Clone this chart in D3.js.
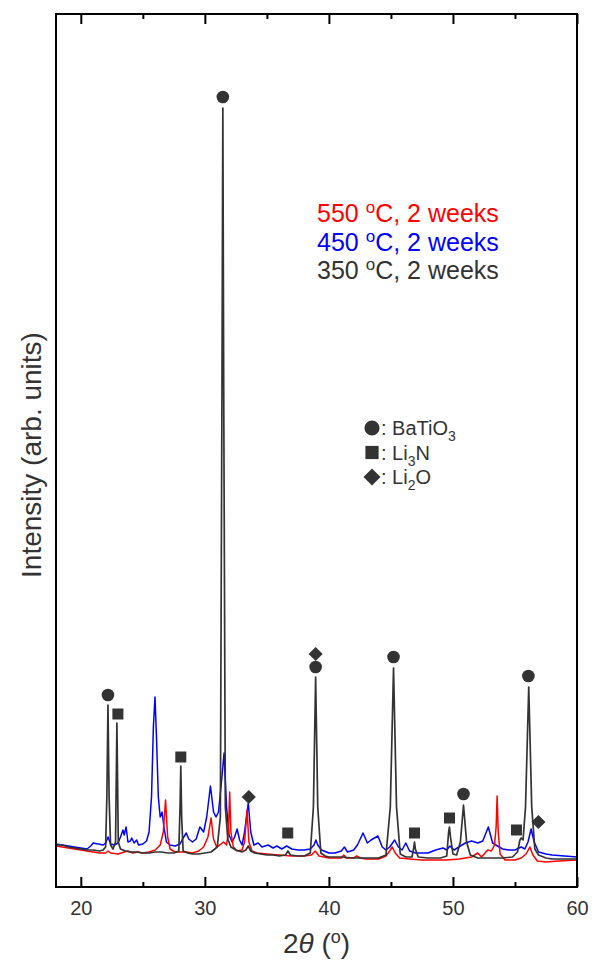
<!DOCTYPE html>
<html>
<head>
<meta charset="utf-8">
<script src="https://cdn.jsdelivr.net/npm/d3@7"></script>
<style>
    body { margin: 0; background: #fff; }
    text { font-family: "Liberation Sans", Arial, sans-serif; }
</style>
</head>
<body>
<svg id="chart" width="592" height="963"></svg>
<script>
// x: 2theta (deg), y: intensity (arb. units)
var xTicks = [20, 30, 40, 50, 60];
var xMinorTicks = [25, 35, 45, 55];

var pattern450 = [
    [18.0, 43], [18.5, 42], [19.0, 41], [19.5, 40], [20.0, 39], [20.5, 38], [20.8, 41], [21.0, 44],
    [21.4, 43], [21.8, 42], [22.0, 44], [22.2, 50], [22.4, 43], [22.7, 42], [23.0, 44], [23.2, 50],
    [23.4, 57], [23.5, 52], [23.65, 60], [23.8, 45], [24.0, 46], [24.1, 49], [24.3, 44], [24.5, 47],
    [24.65, 42], [25.0, 43], [25.3, 46], [25.5, 55], [25.7, 90], [25.85, 160], [25.98, 190], [26.1, 150],
    [26.25, 90], [26.4, 70], [26.55, 75], [26.7, 60], [26.9, 45], [27.2, 42], [27.6, 41], [28.0, 43],
    [28.2, 48], [28.5, 54], [28.7, 48], [29.0, 45], [29.3, 48], [29.6, 60], [29.9, 55], [30.15, 70],
    [30.45, 101], [30.7, 75], [30.9, 70], [31.1, 75], [31.3, 100], [31.55, 134], [31.75, 80], [31.95, 52],
    [32.2, 45], [32.4, 50], [32.6, 58], [32.8, 47], [33.0, 42], [33.2, 55], [33.5, 84], [33.7, 55],
    [33.95, 42], [34.3, 44], [34.6, 40], [35.1, 42], [35.5, 39], [35.8, 41], [36.2, 38], [36.6, 41],
    [37.0, 38], [37.5, 37], [38.0, 37], [38.5, 38], [38.8, 42], [38.95, 47], [39.1, 42], [39.4, 37],
    [40.0, 34], [40.5, 34], [41.0, 36], [41.25, 40], [41.5, 35], [42.0, 37], [42.3, 42], [42.75, 54],
    [43.1, 44], [43.4, 47], [43.95, 51], [44.3, 40], [44.6, 37], [44.9, 40], [45.3, 47], [45.6, 40],
    [45.9, 37], [46.2, 44], [46.5, 36], [47.0, 34], [48.0, 34], [48.6, 37], [49.2, 39], [49.5, 37],
    [49.75, 41], [50.1, 37], [50.6, 41], [51.0, 44], [51.5, 46], [52.0, 44], [52.4, 46], [52.85, 60],
    [53.2, 44], [53.6, 41], [54.0, 38], [54.5, 37], [55.0, 37], [55.5, 40], [55.8, 38], [56.05, 45],
    [56.3, 58], [56.55, 45], [56.9, 35], [57.5, 33], [58.0, 32], [59.0, 31], [60.0, 30]
];

var pattern550 = [
    [18.0, 41], [18.5, 40], [19.0, 39], [19.5, 38], [20.0, 37], [20.5, 36], [21.0, 35], [21.5, 34],
    [22.0, 34], [22.2, 36], [22.4, 34], [23.0, 33], [23.5, 35], [23.8, 36], [24.2, 34], [24.6, 35],
    [25.0, 34], [25.5, 35], [26.0, 37], [26.4, 42], [26.65, 55], [26.83, 87], [27.0, 50], [27.2, 38],
    [27.6, 35], [28.0, 35], [28.5, 35], [29.0, 34], [29.5, 36], [29.9, 40], [30.25, 50], [30.5, 69],
    [30.7, 48], [30.95, 40], [31.2, 42], [31.5, 45], [31.75, 42], [31.9, 55], [32.0, 95], [32.1, 55],
    [32.3, 40], [32.6, 36], [33.0, 37], [33.2, 45], [33.4, 77], [33.55, 45], [33.8, 36], [34.2, 34],
    [35.0, 33], [36.0, 32], [37.0, 31], [38.0, 31], [38.6, 32], [38.9, 36], [39.2, 31], [40.0, 29],
    [41.0, 29], [41.2, 32], [41.4, 29], [42.0, 29], [42.25, 31], [42.5, 29], [43.0, 28], [44.0, 28],
    [44.6, 31], [44.9, 36], [45.1, 40], [45.35, 34], [45.7, 29], [46.5, 28], [47.5, 27], [48.5, 27],
    [49.5, 27], [50.5, 28], [51.5, 30], [52.0, 34], [52.3, 30], [52.8, 37], [53.1, 36], [53.35, 42],
    [53.48, 60], [53.56, 91], [53.65, 55], [53.8, 33], [54.2, 27], [55.0, 27], [55.5, 29], [55.9, 33],
    [56.2, 40], [56.45, 32], [56.8, 26], [57.5, 25], [58.5, 26], [60.0, 27]
];

var pattern350 = [
    [18.0, 42], [18.5, 42], [19.0, 40], [19.5, 39], [20.0, 38], [20.5, 37], [21.0, 37], [21.5, 36],
    [21.8, 37], [22.0, 40], [22.1, 90], [22.19, 182], [22.28, 90], [22.4, 42], [22.6, 38], [22.8, 45],
    [22.91, 164], [23.02, 45], [23.2, 38], [23.6, 36], [24.0, 35], [24.5, 35], [25.0, 34], [25.5, 34],
    [26.0, 35], [26.5, 35], [27.0, 34], [27.5, 34], [27.9, 36], [28.0, 80], [28.06, 121], [28.13, 70],
    [28.25, 36], [28.6, 34], [29.0, 33], [29.5, 33], [30.0, 34], [30.5, 35], [31.0, 40], [31.25, 70],
    [31.38, 500], [31.45, 779], [31.52, 500], [31.65, 80], [31.85, 48], [32.1, 40], [32.5, 37], [33.0, 35],
    [33.3, 37], [33.5, 41], [33.7, 36], [34.0, 34], [34.5, 33], [35.0, 32], [35.5, 32], [36.0, 31],
    [36.5, 32], [36.7, 36], [36.9, 32], [37.5, 31], [38.0, 31], [38.5, 34], [38.75, 80], [38.93, 210],
    [39.1, 80], [39.35, 34], [39.7, 31], [40.0, 30], [41.0, 30], [42.0, 29], [43.0, 29], [44.0, 29],
    [44.6, 32], [44.95, 80], [45.21, 219], [45.45, 80], [45.75, 33], [46.2, 30], [46.7, 30], [46.85, 40],
    [46.9, 45], [46.97, 38], [47.2, 30], [48.0, 29], [49.0, 29], [49.5, 31], [49.65, 55], [49.72, 60],
    [49.8, 50], [50.0, 33], [50.3, 32], [50.6, 45], [50.85, 82], [51.1, 45], [51.4, 32], [52.0, 29],
    [53.0, 29], [54.0, 29], [54.8, 30], [55.2, 35], [55.4, 47], [55.5, 49], [55.65, 47], [55.85, 80],
    [56.11, 200], [56.35, 80], [56.6, 38], [56.9, 32], [57.5, 29], [58.0, 28], [59.0, 28], [60.0, 28]
];

var seriesColors = ['#0000ff', '#ff0000', '#333333'];
var seriesData = [pattern450, pattern550, pattern350];

// legend, top to bottom
var legendTemps = ['550', '450', '350'];
var legendColors = ['#ff0000', '#0000ff', '#333333'];

// phase markers: [shape, 2theta, intensity]
var phaseMarkers = [
    ['circle', 22.19, 192], ['square', 22.99, 173], ['square', 28.06, 130], ['circle', 31.45, 790],
    ['diamond', 33.54, 90], ['square', 36.68, 54], ['diamond', 38.93, 233], ['circle', 38.93, 220],
    ['circle', 45.21, 230], ['square', 46.9, 54], ['square', 49.72, 69], ['circle', 50.85, 93],
    ['square', 55.12, 57], ['circle', 56.08, 211], ['diamond', 56.89, 65]
];
var phaseShapes = ['circle', 'square', 'diamond'];
var phaseLabels = [['BaTiO', '3'], ['Li', '3', 'N'], ['Li', '2', 'O']];

var margin = {top: 14, right: 15, bottom: 76, left: 56},
    width = 592 - margin.left - margin.right,
    height = 963 - margin.top - margin.bottom;

var svg = d3.select('#chart');
var g = svg.append('g')
    .attr('transform', 'translate(' + margin.left + ',' + margin.top + ')');

var x = d3.scaleLinear().domain([18, 60]).range([0, width]);
var y = d3.scaleLinear().domain([0, height]).range([height, 0]);

var line = d3.line()
    .x(function(d) { return x(d[0]); })
    .y(function(d) { return y(d[1]); });

g.append('defs').append('clipPath').attr('id', 'clip')
    .append('rect').attr('width', width).attr('height', height);

var plot = g.append('g').attr('clip-path', 'url(#clip)');

seriesData.forEach(function(data, i) {
    plot.append('path')
        .datum(data)
        .attr('fill', 'none')
        .attr('stroke', seriesColors[i])
        .attr('stroke-width', i === 2 ? 1.7 : 1.5)
        .attr('stroke-linejoin', 'round')
        .attr('d', line);
});

// diamond = square turned 45 degrees
function marker(sel, shape, scale) {
    var k = scale || 1;
    if (shape === 'circle') {
        sel.attr('d', d3.symbol().type(d3.symbolCircle).size(125 * k * k)());
    } else if (shape === 'square') {
        sel.attr('d', d3.symbol().type(d3.symbolSquare).size(121 * k * k)());
    } else {
        sel.attr('d', d3.symbol().type(d3.symbolSquare).size(100 * k * k)())
            .attr('transform', sel.attr('transform') + ' rotate(45)');
    }
}

phaseMarkers.forEach(function(d) {
    g.append('path')
        .attr('fill', '#333333')
        .attr('transform', 'translate(' + x(d[1]) + ',' + y(d[2]) + ')')
        .call(marker, d[0]);
});

// axes
function styleAxis(sel) {
    sel.select('.domain').remove();
    sel.selectAll('line').attr('stroke', '#000').attr('stroke-width', 2);
    sel.selectAll('text')
        .attr('fill', '#333')
        .style('font-size', '20px');
}

g.append('g')
    .attr('transform', 'translate(0,' + height + ')')
    .call(d3.axisBottom(x).tickValues(xTicks).tickSizeInner(-10).tickSizeOuter(0).tickPadding(14))
    .call(styleAxis);

g.append('g')
    .attr('transform', 'translate(0,' + height + ')')
    .call(d3.axisBottom(x).tickValues(xMinorTicks).tickSizeInner(-5).tickSizeOuter(0).tickFormat(''))
    .call(styleAxis);

g.append('g')
    .call(d3.axisTop(x).tickValues(xTicks).tickSizeInner(-10).tickSizeOuter(0).tickFormat(''))
    .call(styleAxis);

g.append('g')
    .call(d3.axisTop(x).tickValues(xMinorTicks).tickSizeInner(-5).tickSizeOuter(0).tickFormat(''))
    .call(styleAxis);

g.append('rect')
    .attr('width', width)
    .attr('height', height)
    .attr('fill', 'none')
    .attr('stroke', '#000')
    .attr('stroke-width', 2);

// axis titles
var xTitle = svg.append('text')
    .attr('x', margin.left + width / 2)
    .attr('y', 953)
    .attr('text-anchor', 'middle')
    .attr('fill', '#333')
    .style('font-size', '28px');
xTitle.append('tspan').text('2');
xTitle.append('tspan').style('font-style', 'italic').text('\u03b8');
xTitle.append('tspan').text(' (');
xTitle.append('tspan').attr('dy', -10).style('font-size', '18px').text('o');
xTitle.append('tspan').attr('dy', 10).text(')');

svg.append('text')
    .attr('transform', 'translate(41,455) rotate(-90)')
    .attr('text-anchor', 'middle')
    .attr('fill', '#333')
    .style('font-size', '28px')
    .text('Intensity (arb. units)');

// temperature legend
legendTemps.forEach(function(t, i) {
    var txt = svg.append('text')
        .attr('x', 317)
        .attr('y', 222 + i * 28.5)
        .attr('fill', legendColors[i])
        .style('font-size', '25px');
    txt.append('tspan').text(t + ' ');
    txt.append('tspan').attr('dy', -9).style('font-size', '17px').text('o');
    txt.append('tspan').attr('dy', 9).text('C, 2 weeks');
});

// phase legend
phaseShapes.forEach(function(s, i) {
    var cy = 428 + i * 24.5;
    svg.append('path')
        .attr('fill', '#333333')
        .attr('transform', 'translate(372,' + cy + ')')
        .call(marker, s, 1.2);
    var txt = svg.append('text')
        .attr('x', 381)
        .attr('y', cy + 7)
        .attr('fill', '#333')
        .style('font-size', '20px');
    txt.append('tspan').text(': ' + phaseLabels[i][0]);
    txt.append('tspan').attr('dy', 6).style('font-size', '14px').text(phaseLabels[i][1]);
    if (phaseLabels[i][2]) {
        txt.append('tspan').attr('dy', -6).text(phaseLabels[i][2]);
    }
});
</script>
</body>
</html>
